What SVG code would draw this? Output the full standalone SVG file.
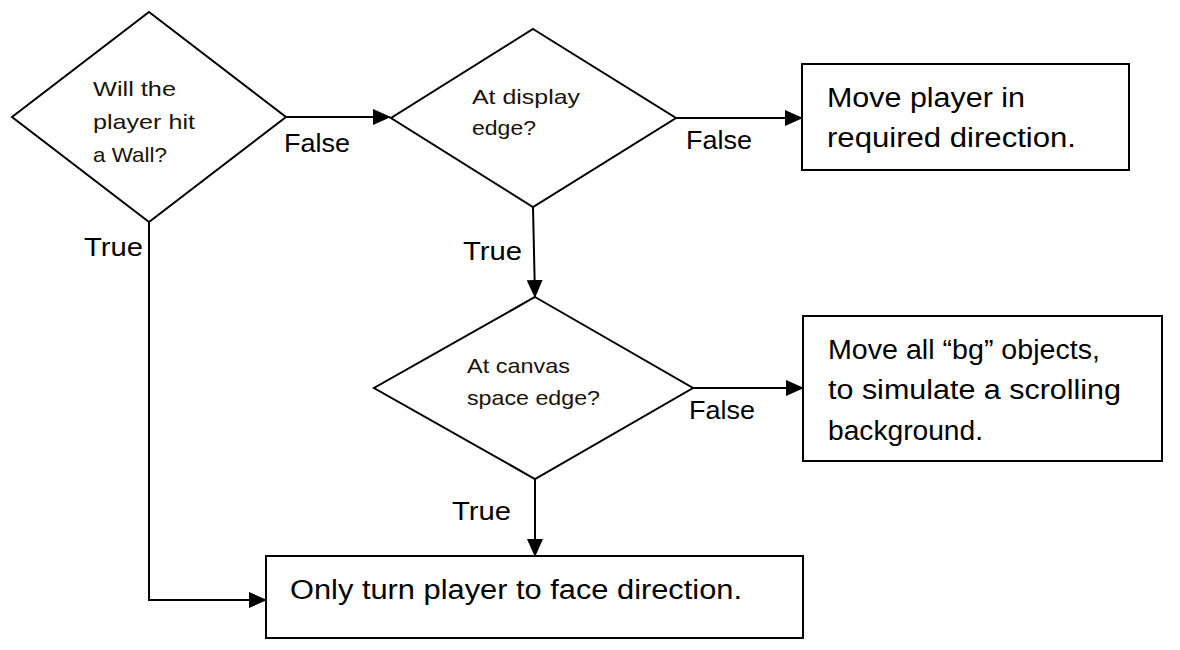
<svg xmlns="http://www.w3.org/2000/svg" width="1180" height="650" viewBox="0 0 1180 650">
<style>
.shape{fill:#fff;stroke:#000;stroke-width:2}
.con{fill:none;stroke:#000;stroke-width:2}
.t{font-family:"Liberation Sans",Arial,sans-serif;fill:#000}
.q{font-size:21px;fill:#1a1208}
.lbl{font-size:26px}
.bx{font-size:27px}
</style>
<defs>
<marker id="arr" viewBox="0 0 18 16" refX="17" refY="8" markerWidth="18" markerHeight="16" markerUnits="userSpaceOnUse" orient="auto">
<path d="M0,0 L18,8 L0,16 Z" fill="#000"/>
</marker>
</defs>
<rect width="1180" height="650" fill="#fff"/>
<g id="connectors">
<line class="con" x1="286" y1="117" x2="390" y2="117" marker-end="url(#arr)"/>
<line class="con" x1="676" y1="118" x2="802" y2="118" marker-end="url(#arr)"/>
<line class="con" x1="533" y1="207" x2="535" y2="297" marker-end="url(#arr)"/>
<line class="con" x1="693" y1="388" x2="803" y2="388" marker-end="url(#arr)"/>
<line class="con" x1="535" y1="479" x2="535" y2="556" marker-end="url(#arr)"/>
<polyline class="con" points="149,222 149,600 266,600" marker-end="url(#arr)"/>
<text class="t lbl" x="284" y="152" textLength="66" lengthAdjust="spacingAndGlyphs">False</text>
<text class="t lbl" x="84" y="256" textLength="59" lengthAdjust="spacingAndGlyphs">True</text>
<text class="t lbl" x="686" y="149" textLength="66" lengthAdjust="spacingAndGlyphs">False</text>
<text class="t lbl" x="463" y="260" textLength="59" lengthAdjust="spacingAndGlyphs">True</text>
<text class="t lbl" x="689" y="419" textLength="66" lengthAdjust="spacingAndGlyphs">False</text>
<text class="t lbl" x="452" y="520" textLength="59" lengthAdjust="spacingAndGlyphs">True</text>
</g>
<g id="d1">
<polygon class="shape" points="149,12 286,117 149,222 12,117"/>
<text class="t q" x="93" y="96" textLength="83" lengthAdjust="spacingAndGlyphs">Will the</text>
<text class="t q" x="93" y="129" textLength="102" lengthAdjust="spacingAndGlyphs">player hit</text>
<text class="t q" x="93" y="162" textLength="74" lengthAdjust="spacingAndGlyphs">a Wall?</text>
</g>
<g id="d2">
<polygon class="shape" points="533,29 676,118 533,207 391,118"/>
<text class="t q" x="472" y="104" textLength="108" lengthAdjust="spacingAndGlyphs">At display</text>
<text class="t q" x="472" y="135" textLength="64" lengthAdjust="spacingAndGlyphs">edge?</text>
</g>
<g id="d3">
<polygon class="shape" points="535,297 693,388 535,479 374,388"/>
<text class="t q" x="467" y="373" textLength="103" lengthAdjust="spacingAndGlyphs">At canvas</text>
<text class="t q" x="467" y="405" textLength="133" lengthAdjust="spacingAndGlyphs">space edge?</text>
</g>
<g id="b1">
<rect class="shape" x="802" y="64" width="327" height="106"/>
<text class="t bx" x="827" y="107" textLength="198" lengthAdjust="spacingAndGlyphs">Move player in</text>
<text class="t bx" x="827" y="147" textLength="249" lengthAdjust="spacingAndGlyphs">required direction.</text>
</g>
<g id="b2">
<rect class="shape" x="803" y="316" width="359" height="145"/>
<text class="t bx" x="828" y="359" textLength="272" lengthAdjust="spacingAndGlyphs">Move all “bg” objects,</text>
<text class="t bx" x="828" y="399" textLength="293" lengthAdjust="spacingAndGlyphs">to simulate a scrolling</text>
<text class="t bx" x="828" y="440" textLength="155" lengthAdjust="spacingAndGlyphs">background.</text>
</g>
<g id="b3">
<rect class="shape" x="266" y="556" width="537" height="82"/>
<text class="t bx" x="290" y="599" textLength="452" lengthAdjust="spacingAndGlyphs">Only turn player to face direction.</text>
</g>
</svg>
